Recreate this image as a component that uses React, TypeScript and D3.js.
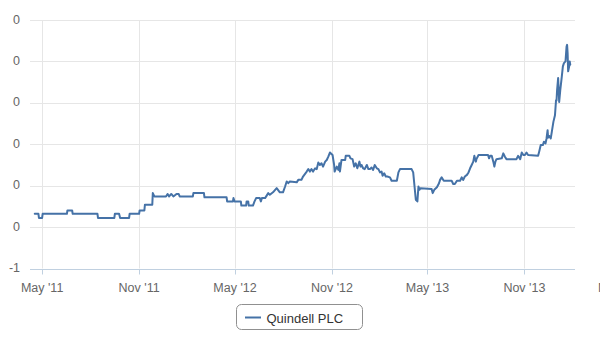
import React from "react";
import * as d3 from "d3";

const seriesName = "Quindell PLC";

const dates: string[] = [
  "2011-04-17","2011-04-24","2011-04-25","2011-05-01","2011-05-02","2011-06-17","2011-06-18","2011-06-27","2011-06-28","2011-08-14",
  "2011-08-15","2011-09-15","2011-09-16","2011-09-24","2011-09-26","2011-10-13","2011-10-14","2011-11-01","2011-11-02","2011-11-11",
  "2011-11-12","2011-11-26","2011-11-27","2011-11-30","2011-12-22","2011-12-25","2011-12-28","2012-01-01","2012-01-05","2012-01-11",
  "2012-01-15","2012-01-17","2012-02-11","2012-02-12","2012-03-03","2012-03-04","2012-04-15","2012-04-16","2012-04-27","2012-04-28",
  "2012-04-30","2012-05-12","2012-05-13","2012-05-22","2012-05-23","2012-05-26","2012-05-27","2012-06-04","2012-06-07","2012-06-10",
  "2012-06-17","2012-06-19","2012-06-21","2012-06-27","2012-07-03","2012-07-06","2012-07-12","2012-07-19","2012-07-25","2012-07-31",
  "2012-08-04","2012-08-07","2012-08-10","2012-08-13","2012-08-26","2012-08-29","2012-09-04","2012-09-07","2012-09-14","2012-09-17",
  "2012-09-20","2012-09-23","2012-09-26","2012-09-30","2012-10-03","2012-10-06","2012-10-09","2012-10-12","2012-10-15","2012-10-19",
  "2012-10-22","2012-10-25","2012-10-28","2012-11-02","2012-11-05","2012-11-06","2012-11-10","2012-11-13","2012-11-15","2012-11-16",
  "2012-11-19","2012-11-26","2012-11-27","2012-12-04","2012-12-06","2012-12-10","2012-12-13","2012-12-16","2012-12-19","2012-12-23",
  "2012-12-25","2012-12-27","2012-12-30","2013-01-02","2013-01-06","2013-01-09","2013-01-12","2013-01-15","2013-01-18","2013-01-21",
  "2013-01-25","2013-01-28","2013-01-31","2013-02-03","2013-02-05","2013-02-08","2013-02-11","2013-02-14","2013-02-19","2013-02-22",
  "2013-03-04","2013-03-07","2013-03-10","2013-04-01","2013-04-04","2013-04-09","2013-04-12","2013-04-14","2013-04-16","2013-04-18",
  "2013-05-09","2013-05-11","2013-05-14","2013-05-19","2013-05-23","2013-05-25","2013-05-28","2013-06-01","2013-06-16","2013-06-19",
  "2013-06-22","2013-06-26","2013-07-02","2013-07-05","2013-07-08","2013-07-11","2013-07-15","2013-07-18","2013-07-21","2013-07-24",
  "2013-07-27","2013-07-29","2013-08-01","2013-08-02","2013-08-06","2013-08-24","2013-08-26","2013-08-28","2013-08-31","2013-09-03",
  "2013-09-05","2013-09-07","2013-09-09","2013-09-19","2013-09-22","2013-09-25","2013-09-28","2013-10-17","2013-10-20","2013-10-24",
  "2013-10-27","2013-10-30","2013-11-02","2013-11-05","2013-11-08","2013-11-27","2013-11-29","2013-12-02","2013-12-06","2013-12-08",
  "2013-12-11","2013-12-13","2013-12-15","2013-12-16","2013-12-18","2013-12-21","2013-12-23","2013-12-26","2013-12-29","2013-12-31",
  "2014-01-01","2014-01-02","2014-01-04","2014-01-06","2014-01-08","2014-01-11","2014-01-13","2014-01-15","2014-01-18","2014-01-20",
  "2014-01-21","2014-01-22","2014-01-23","2014-01-25","2014-01-26","2014-01-27",
];

const prices: number[] = [
  0.016,0.016,0.011,0.011,0.016,0.016,0.020,0.020,0.016,0.016,
  0.011,0.011,0.016,0.016,0.011,0.011,0.016,0.016,0.020,0.020,
  0.027,0.027,0.041,0.037,0.037,0.040,0.037,0.040,0.037,0.040,
  0.040,0.037,0.037,0.041,0.041,0.036,0.036,0.031,0.031,0.035,
  0.031,0.031,0.026,0.026,0.031,0.031,0.026,0.026,0.031,0.035,
  0.035,0.031,0.035,0.035,0.041,0.039,0.042,0.047,0.042,0.042,
  0.049,0.055,0.053,0.055,0.054,0.057,0.057,0.061,0.067,0.070,
  0.067,0.070,0.067,0.071,0.070,0.078,0.075,0.077,0.073,0.079,
  0.081,0.085,0.090,0.087,0.075,0.067,0.073,0.069,0.077,0.067,
  0.081,0.081,0.086,0.086,0.083,0.082,0.073,0.077,0.071,0.079,
  0.073,0.075,0.071,0.070,0.075,0.070,0.070,0.072,0.069,0.075,
  0.071,0.070,0.066,0.067,0.062,0.065,0.061,0.061,0.060,0.056,
  0.056,0.066,0.070,0.070,0.066,0.033,0.031,0.049,0.045,0.047,
  0.046,0.041,0.045,0.048,0.053,0.057,0.060,0.056,0.056,0.052,
  0.052,0.056,0.056,0.060,0.057,0.061,0.063,0.066,0.071,0.075,
  0.079,0.086,0.079,0.082,0.087,0.087,0.083,0.086,0.086,0.079,
  0.073,0.079,0.082,0.083,0.089,0.085,0.082,0.082,0.086,0.082,
  0.090,0.087,0.087,0.090,0.087,0.086,0.091,0.099,0.099,0.103,
  0.101,0.107,0.117,0.108,0.110,0.107,0.115,0.127,0.135,0.153,
  0.153,0.165,0.180,0.151,0.165,0.182,0.194,0.198,0.200,0.218,
  0.220,0.210,0.188,0.194,0.200,0.196,
];

const xTickDates: string[] = ["2011-05-01","2011-11-01","2012-05-01","2012-11-01","2013-05-01","2013-11-01","2014-05-01"];
const xTickLabels: string[] = ["May '11","Nov '11","May '12","Nov '12","May '13","Nov '13","May '14"];
const yTickValues: number[] = [-0.05, 0, 0.05, 0.1, 0.15, 0.2, 0.25];
const yTickLabels: string[] = ["-1","0","0","0","0","0","0"];
const xDomain: string[] = ["2011-04-08","2014-02-05"];

const W = 600, H = 350;
const plot = { left: 30, right: 575, top: 20, bottom: 268.5 };
const FONT = "'Liberation Sans', Arial, Helvetica, sans-serif";

export default function App() {
  const parse = (s: string) => new Date(s + "T00:00:00Z");
  const x = d3.scaleUtc().domain(xDomain.map(parse)).range([plot.left, plot.right]);
  const y = d3.scaleLinear().domain([yTickValues[0], yTickValues[yTickValues.length - 1]]).range([plot.bottom, plot.top]);
  const pts: [Date, number][] = dates.map((d, i) => [parse(d), prices[i]]);
  const line = d3.line<[Date, number]>().x((d) => x(d[0])).y((d) => y(d[1]));
  const snap = (v: number) => Math.round(v) + 0.5;

  return (
    <svg width={W} height={H} style={{ position: "absolute", left: 0, top: 0, background: "#fff" }} fontFamily={FONT}>
      <rect x={0} y={0} width={W} height={H} fill="#fff" />
      {yTickValues.slice(1).map((v, i) => (
        <line key={"yg" + i} x1={plot.left} x2={plot.right} y1={snap(y(v))} y2={snap(y(v))} stroke="#E6E6E6" strokeWidth={1} />
      ))}
      {xTickDates.map((d, i) => {
        const xx = x(parse(d));
        if (xx > plot.right) return null;
        return <line key={"xg" + i} x1={snap(xx)} x2={snap(xx)} y1={plot.top} y2={plot.bottom} stroke="#E6E6E6" strokeWidth={1} />;
      })}
      <line x1={plot.left} x2={plot.right} y1={snap(plot.bottom)} y2={snap(plot.bottom)} stroke="#C0D0E0" strokeWidth={1} />
      {xTickDates.map((d, i) => {
        const xx = x(parse(d));
        return (
          <g key={"xt" + i}>
            <line x1={snap(xx)} x2={snap(xx)} y1={snap(plot.bottom)} y2={snap(plot.bottom) + 5} stroke="#C0D0E0" strokeWidth={1} />
            <text x={xx} y={292} textAnchor="middle" fontSize={12.5} fill="#666">{xTickLabels[i]}</text>
          </g>
        );
      })}
      {yTickValues.map((v, i) => (
        <text key={"yl" + i} x={20} y={y(v) + 3.5} textAnchor="end" fontSize={12.5} fill="#666">{yTickLabels[i]}</text>
      ))}
      <path d={line(pts) || ""} fill="none" stroke="#4572A7" strokeWidth={2} strokeLinejoin="round" strokeLinecap="round" />
      <g>
        <rect x={236.5} y={304.5} width={126} height={25} rx={5} ry={5} fill="#fff" stroke="#909090" strokeWidth={1} />
        <line x1={245} x2={261} y1={317.5} y2={317.5} stroke="#4572A7" strokeWidth={2} />
        <text x={266.5} y={322.5} fontSize={13} fill="#333">{seriesName}</text>
      </g>
    </svg>
  );
}
